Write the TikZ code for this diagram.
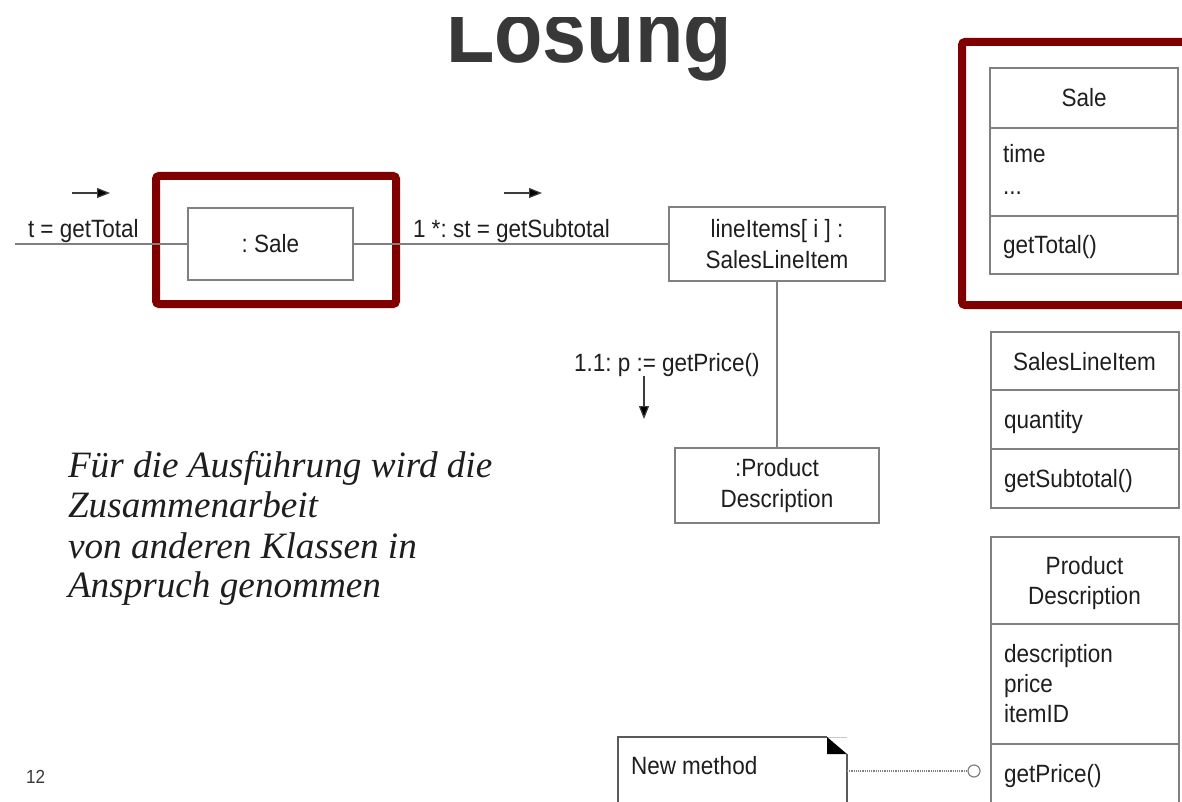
\documentclass[tikz,border=0pt]{standalone}
\usepackage{fontspec}
\setmainfont{Liberation Sans}[FakeStretch=0.9]
\newfontfamily\notefont{Liberation Serif}
\usetikzlibrary{arrows.meta}
\definecolor{framered}{RGB}{128,0,0}
\definecolor{boxline}{RGB}{128,128,128}
\definecolor{titlegray}{RGB}{56,56,56}
\definecolor{txtcol}{RGB}{30,30,30}
\definecolor{notegray}{RGB}{90,90,90}
\frenchspacing
\begin{document}
\begin{tikzpicture}[x=1pt,y=-1pt,
  every node/.style={inner sep=0pt, outer sep=0pt, text=txtcol},
  obj/.style={draw=boxline, line width=1.2pt, align=center, font=\fontsize{25}{31}\selectfont},
  comp/.style={draw=boxline, line width=1.2pt, minimum width=188, anchor=north west},
  lbl/.style={font=\fontsize{25}{31}\selectfont, anchor=base west},
  ctr/.style={font=\fontsize{25}{31}\selectfont, anchor=base},
  conn/.style={draw=boxline, line width=1.2pt},
  msg/.style={draw={rgb,255:red,60;green,60;blue,60}, line width=1.2pt, -{Triangle[length=13pt,width=10pt,fill=black]}},
  hl/.style={draw=framered, line width=8pt, rounded corners=3pt},
  itl/.style={font=\notefont\itshape\fontsize{37.2}{41}\selectfont, anchor=base west}
]
\useasboundingbox (0,0) rectangle (1182,802);
\clip (0,0) rectangle (1182,802);

% title (its top part is cut off in the slide)
\node[anchor=base west, font=\bfseries\fontsize{88}{96}\selectfont, text=titlegray] (title) at (446,63) {Losung};
\fill[white] (400,-2) rectangle (800,17);

% collaboration diagram
\node[hl, minimum width=240, minimum height=128] (hlsale) at (276,240) {};
\node[obj, minimum width=165, minimum height=72] (sale) at (270.5,244) {: Sale};
\node[obj, minimum width=216, minimum height=74] (li) at (777,244) {lineItems[ i ] :\\SalesLineItem};
\node[obj, minimum width=204, minimum height=75] (pd) at (777,485.5) {:Product\\Description};

\coordinate (lin) at (15,244);
\draw[conn] (lin) -- (sale.west);
\draw[conn] (sale.east) -- (li.west);
\draw[conn] (li.south) -- (pd.north);

\node[lbl] (m1) at (28,237) {t = getTotal};
\coordinate (a1s) at (72,193); \coordinate (a1e) at (110,193);
\draw[msg] (a1s) -- (a1e);

\node[lbl] (m2) at (413,237) {1 *: st = getSubtotal};
\coordinate (a2s) at (504,193); \coordinate (a2e) at (542,193);
\draw[msg] (a2s) -- (a2e);

\node[lbl] (m3) at (574,371) {1.1: p := getPrice()};
\coordinate (a3s) at (644,376); \coordinate (a3e) at (644,419);
\draw[msg] (a3s) -- (a3e);

% italic text
\node[itl] (t1) at (68,477) {Für die Ausführung wird die};
\node[itl] (t2) at (68,517) {Zusammenarbeit};
\node[itl] (t3) at (68,558) {von anderen Klassen in};
\node[itl] (t4) at (68,597) {Anspruch genommen};

% page number
\node[anchor=base west, font=\fontsize{19}{22}\selectfont, text=titlegray] (pg) at (26,783) {12};

% class Sale
\node[hl, minimum width=260, minimum height=263, anchor=north west] (hlcls) at (962,42) {};
\node[comp, minimum height=60] (csN) at (990,68) {};
\node[comp, minimum height=88] (csA) at (990,128) {};
\node[comp, minimum height=58] (csO) at (990,216) {};
\node[ctr] (csNt) at (1084,107) {Sale};
\node[lbl] (csA1) at (1003,163) {time};
\node[lbl] (csA2) at (1003,195) {...};
\node[lbl] (csO1) at (1003,254) {getTotal()};

% class SalesLineItem
\node[comp, minimum height=58] (slN) at (991,332) {};
\node[comp, minimum height=59] (slA) at (991,390) {};
\node[comp, minimum height=59] (slO) at (991,449) {};
\node[ctr] (slNt) at (1084.5,370) {SalesLineItem};
\node[lbl] (slA1) at (1004,428.5) {quantity};
\node[lbl] (slO1) at (1004,487.5) {getSubtotal()};

% class ProductDescription
\node[comp, minimum height=87] (pdN) at (991,537) {};
\node[comp, minimum height=120] (pdA) at (991,624) {};
\node[comp, minimum height=80] (pdO) at (991,744) {};
\node[ctr] (pdN1) at (1084.5,574) {Product};
\node[ctr] (pdN2) at (1084.5,604) {Description};
\node[lbl] (pdA1) at (1004,662) {description};
\node[lbl] (pdA2) at (1004,692) {price};
\node[lbl] (pdA3) at (1004,722) {itemID};
\node[lbl] (pdO1) at (1004,782) {getPrice()};

% note
\draw[draw=notegray, line width=1.2pt] (847,754) -- (847,815) -- (618,815) -- (618,737) -- (827,737);
\draw[draw={rgb,255:red,200;green,200;blue,200}, line width=1pt] (827,737) -- (847,737);
\fill[black] (827,737) -- (847,754) -- (827,754) -- cycle;
\node[lbl] (note) at (631,774) {New method};
\coordinate (noteR) at (847,771);
\node[draw=boxline, line width=1.2pt, circle, minimum size=12] (lolli) at (974,771) {};
\draw[draw=boxline, line width=1.2pt, dash pattern=on 1.2pt off 1pt] (noteR) -- (lolli.west);
\end{tikzpicture}
\end{document}
